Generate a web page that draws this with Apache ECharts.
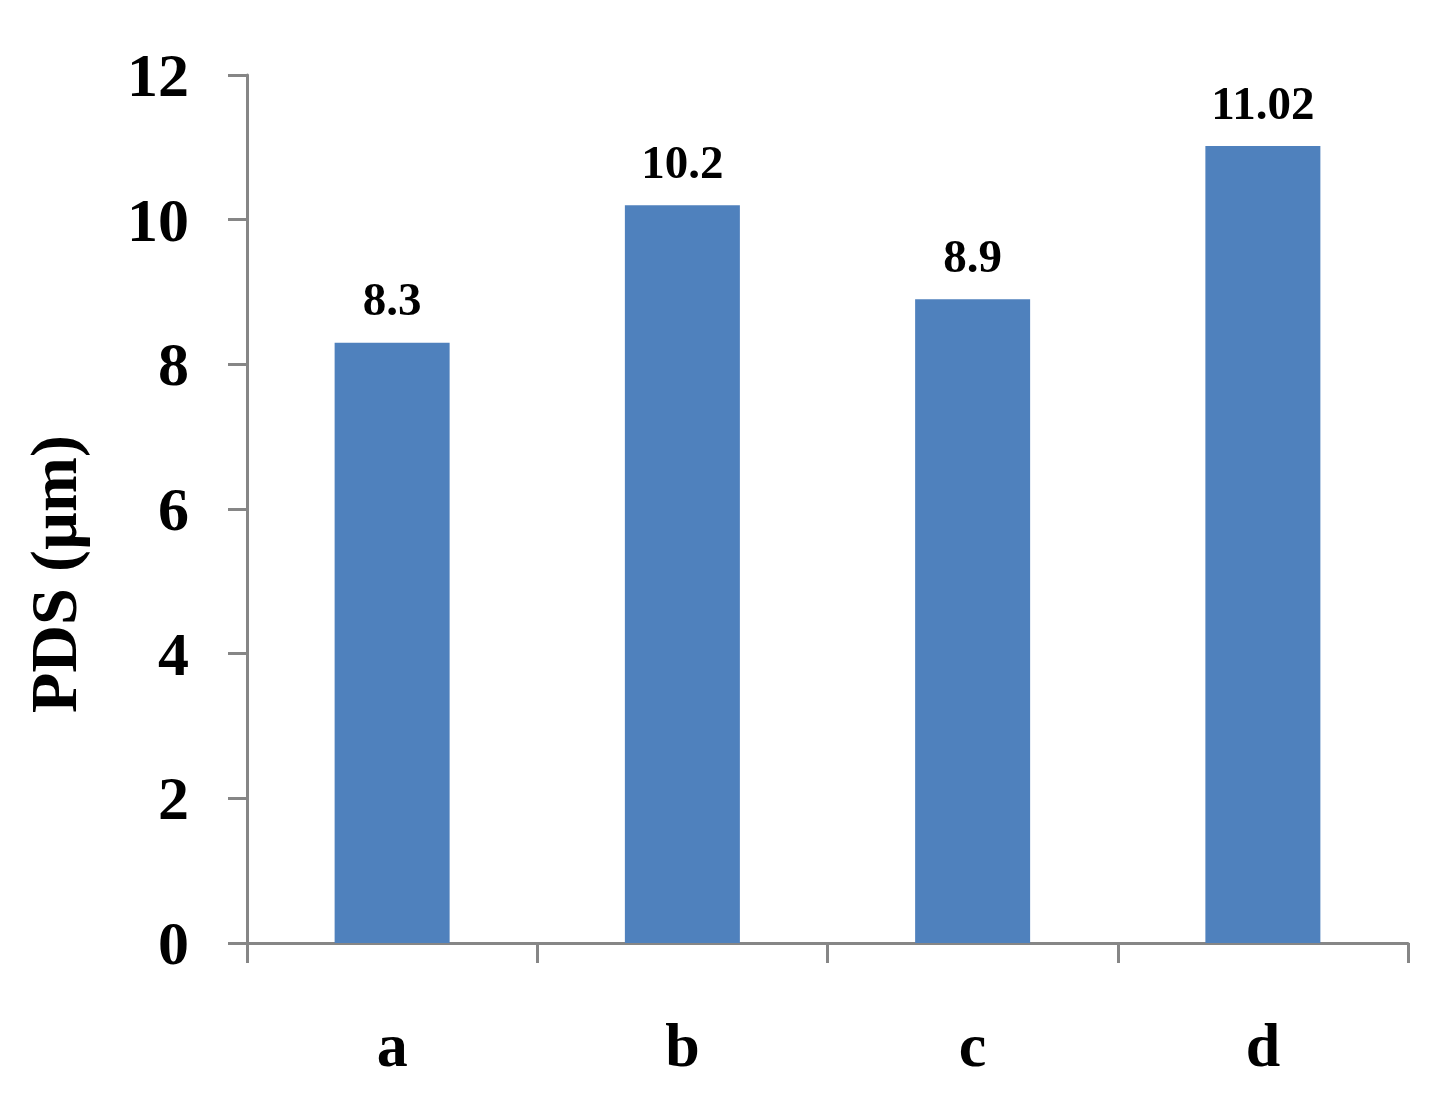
<!DOCTYPE html>
<html>
<head>
<meta charset="utf-8">
<script src="https://cdn.jsdelivr.net/npm/echarts@6/dist/echarts.min.js"></script>
<style>
    html, body { margin: 0; padding: 0; background: #fff; }
    #chart { width: 1444px; height: 1120px; }
</style>
</head>
<body>
<div id="chart"></div>
<script>
// categories and PDS values
const categories = ["a", "b", "c", "d"]
const pdsValues = [8.3, 10.2, 8.9, 11.02]
const yTicks = [0, 2, 4, 6, 8, 10, 12]

const font = "'Liberation Serif', 'Times New Roman', serif"
const axisGray = "#868686"

let myChart = echarts.init(document.getElementById("chart"))
myChart.setOption({
    animation: false,
    grid: {
        left: 247,
        right: 36,
        top: 75,
        bottom: 177
    },
    xAxis: {
        type: "category",
        data: categories,
        axisLine: {
            lineStyle: { color: axisGray, width: 3 }
        },
        axisTick: {
            show: true,
            length: 20,
            lineStyle: { color: axisGray, width: 3 }
        },
        axisLabel: {
            color: "#000",
            fontFamily: font,
            fontWeight: "bold",
            fontSize: 62,
            margin: 76
        }
    },
    yAxis: {
        type: "value",
        min: yTicks[0],
        max: yTicks[yTicks.length - 1],
        interval: 2,
        name: "PDS (µm)",
        nameLocation: "middle",
        nameRotate: 90,
        nameGap: 155,
        nameTextStyle: {
            color: "#000",
            fontFamily: font,
            fontWeight: "bold",
            fontSize: 66,
            padding: [0, 130, 0, 0] // pushes the title down the axis
        },
        splitLine: { show: false },
        axisLine: {
            show: true,
            lineStyle: { color: axisGray, width: 3 }
        },
        axisTick: {
            show: true,
            length: 19,
            lineStyle: { color: axisGray, width: 3 }
        },
        axisLabel: {
            margin: 58,
            formatter: "{v|{value}}",
            rich: {
                v: {
                    color: "#000",
                    fontFamily: font,
                    fontWeight: "bold",
                    fontSize: 62,
                    padding: [10, 0, 0, 0]
                }
            }
        }
    },
    series: [{
        type: "bar",
        data: pdsValues,
        barWidth: 115,
        itemStyle: { color: "#4F81BD" },
        label: {
            show: true,
            position: "top",
            distance: 16,
            color: "#000",
            fontFamily: font,
            fontWeight: "bold",
            fontSize: 47
        }
    }]
})
</script>
</body>
</html>
